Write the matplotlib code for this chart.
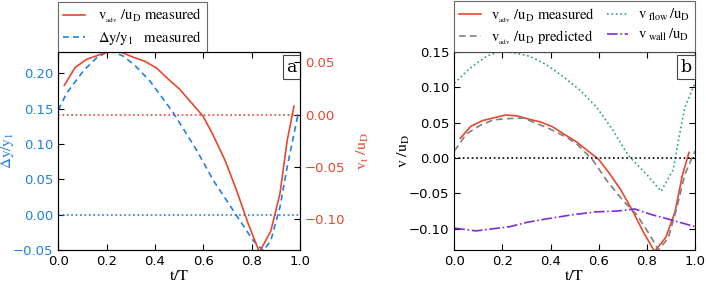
import matplotlib
matplotlib.use("Agg")
import matplotlib.pyplot as plt

plt.rcParams['mathtext.fontset'] = 'stix'
plt.rcParams['font.family'] = 'DejaVu Sans'

# ---- data ----
t_meas = [0.025, 0.069, 0.117, 0.166, 0.214, 0.262, 0.31, 0.359, 0.407, 0.455, 0.503,
          0.552, 0.60, 0.641, 0.69, 0.738, 0.786, 0.832, 0.879, 0.917, 0.947, 0.975]
v_adv_meas = [0.028, 0.045, 0.053, 0.057, 0.061, 0.0596, 0.055, 0.051, 0.0445, 0.034, 0.024,
              0.011, -0.002, -0.020, -0.044, -0.073, -0.105, -0.132, -0.112, -0.076, -0.025, 0.008]

t_dy = [0.0, 0.035, 0.103, 0.159, 0.214, 0.27, 0.32, 0.379, 0.476, 0.572, 0.641, 0.724, 0.807,
        0.848, 0.879, 0.917, 0.947, 0.993]
dy_meas = [0.148, 0.172, 0.203, 0.222, 0.232, 0.224, 0.210, 0.189, 0.144, 0.0914, 0.0486, 0.0057,
           -0.037, -0.051, -0.037, 0.0105, 0.0676, 0.144]

t_pred = [0.0, 0.05, 0.106, 0.162, 0.218, 0.287, 0.342, 0.398, 0.468, 0.509, 0.578, 0.634,
          0.703, 0.758, 0.813, 0.848, 0.889, 0.924, 0.958, 1.0]
v_adv_pred = [0.010, 0.034, 0.046, 0.054, 0.0557, 0.0566, 0.049, 0.041, 0.029, 0.020, -0.004,
              -0.032, -0.061, -0.080, -0.109, -0.130, -0.113, -0.071, -0.023, 0.010]

t_flow = [0.0, 0.065, 0.134, 0.19, 0.245, 0.314, 0.383, 0.453, 0.522, 0.591, 0.66, 0.702,
          0.73, 0.799, 0.859, 0.91, 0.931, 0.958, 1.0]
v_flow = [0.106, 0.127, 0.144, 0.151, 0.149, 0.144, 0.132, 0.115, 0.096, 0.072, 0.039, 0.015,
          0.001, -0.023, -0.047, -0.016, 0.025, 0.072, 0.106]

t_wall = [0.0, 0.09, 0.231, 0.30, 0.383, 0.494, 0.591, 0.674, 0.75, 0.82, 0.896, 1.0]
v_wall = [-0.099, -0.103, -0.097, -0.091, -0.086, -0.080, -0.076, -0.075, -0.072, -0.080,
          -0.087, -0.097]

xticks = [0.0, 0.2, 0.4, 0.6, 0.8, 1.0]
yticks_a = [-0.05, 0.0, 0.05, 0.10, 0.15, 0.20]
yticks_ar = [-0.10, -0.05, 0.0, 0.05]
yticks_b = [-0.10, -0.05, 0.0, 0.05, 0.10, 0.15]

RED = '#e8472e'
BLUE = '#1e80e8'
GREY = '#808080'
GREEN = '#2aa37c'
PURPLE = '#7a2ee0'

fig = plt.figure(figsize=(7.06, 2.86), dpi=100)
W, H = 706, 286

def add_ax(x0, x1, y0, y1):
    return fig.add_axes([x0 / W, 1 - y1 / H, (x1 - x0) / W, (y1 - y0) / H])

def style_ticks(ax):
    ax.tick_params(direction='in', length=4, width=0.8, labelsize=9.5, pad=3.5)

def fmt(v):
    return f"{v:.2f}".replace('-', '\u2212')

LEGFS = 10.5

# ---- panel a ----
axa = add_ax(58.3, 300, 52, 250)
axa.plot(t_dy, dy_meas, color=BLUE, ls='--', lw=1.2, dashes=(3.5, 2.5))
axa.axhline(0, color=BLUE, ls=':', lw=1.2)
axa.set_xlim(0, 1)
axa.set_ylim(-0.05, 0.23)
axa.set_xticks(xticks)
axa.set_xticklabels([f"{v:.1f}" for v in xticks])
axa.set_yticks(yticks_a)
axa.set_yticklabels([fmt(v) for v in yticks_a], color=BLUE)
style_ticks(axa)
axa.tick_params(top=True, right=False)
axa.set_xlabel(r'$\mathrm{t/T}$', fontsize=11.5, labelpad=0)
axa.set_ylabel(r'$\mathrm{\Delta y/y_1}$', fontsize=11, color=BLUE)
axa.yaxis.set_label_coords((16 - 58.3) / 241.7, 0.5)

axr = axa.twinx()
axr.plot(t_meas, v_adv_meas, color=RED, lw=1.2)
axr.axhline(0, color=RED, ls=':', lw=1.2)
axr.set_ylim(-0.13, 0.06)
axr.set_yticks(yticks_ar)
axr.set_yticklabels([fmt(v) for v in yticks_ar], color=RED)
style_ticks(axr)
axr.set_ylabel(r'$\mathrm{v_t\ /u_D}$', fontsize=11.5, color=RED)
axr.yaxis.set_label_coords((355 - 58.3) / 241.7, 0.5)
axr.set_xlim(0, 1)

la, = axa.plot([], [], color=RED, lw=1.2)
lb, = axa.plot([], [], color=BLUE, ls='--', lw=1.2, dashes=(3.5, 2.5))
lega = axa.legend([la, lb],
                  [r'$\mathrm{v_{_{adv}}\ /u_D\ measured}$', r'$\mathrm{\Delta y/y_1\ \ \ measured}$'],
                  loc='lower left', bbox_to_anchor=(0, 1.0), fontsize=LEGFS, frameon=True,
                  fancybox=False, borderaxespad=0, handlelength=1.5, labelspacing=0.25,
                  borderpad=0.35, handletextpad=0.9)
lega.get_frame().set_edgecolor('#444444')
lega.get_frame().set_linewidth(0.8)
axa.text(0.985, 0.965, 'a', transform=axa.transAxes, ha='right', va='top',
         fontsize=12.5, family='DejaVu Serif',
         bbox=dict(boxstyle='square,pad=0.2', fc='white', ec='#444444', lw=0.8))

# ---- panel b ----
axb = add_ax(454.3, 695, 52, 250)
axb.plot(t_meas, v_adv_meas, color=RED, lw=1.2, label=r'$\mathrm{v_{_{adv}}\ /u_D\ measured}$')
axb.plot(t_pred, v_adv_pred, color=GREY, ls='--', lw=1.2, dashes=(4, 2.5),
         label=r'$\mathrm{v_{_{adv}}\ /u_D\ predicted}$')
axb.plot(t_flow, v_flow, color=GREEN, ls=':', lw=1.2, label=r'$\mathrm{v_{\ flow}\,/u_D}$')
axb.plot(t_wall, v_wall, color=PURPLE, ls='-.', lw=1.2, label=r'$\mathrm{v_{\ wall}\,/u_D}$')
axb.axhline(0, color='black', ls=':', lw=1.2)
axb.set_xlim(0, 1)
axb.set_ylim(-0.13, 0.15)
axb.set_xticks(xticks)
axb.set_xticklabels([f"{v:.1f}" for v in xticks])
axb.set_yticks(yticks_b)
axb.set_yticklabels([fmt(v) for v in yticks_b])
style_ticks(axb)
axb.tick_params(top=True, right=True)
axb.set_xlabel(r'$\mathrm{t/T}$', fontsize=11.5, labelpad=0)
axb.set_ylabel(r'$\mathrm{v\ /u_D}$', fontsize=11.5)
axb.yaxis.set_label_coords((412 - 454.3) / 240.7, 0.5)
legb = axb.legend(loc='lower left', bbox_to_anchor=(0, 1.0, 1, 0.2), mode='expand', ncol=2,
                  fontsize=LEGFS, frameon=True, fancybox=False, borderaxespad=0,
                  handlelength=1.5, labelspacing=0.25, borderpad=0.35, handletextpad=0.65,
                  columnspacing=1.0)
legb.get_frame().set_edgecolor('#444444')
legb.get_frame().set_linewidth(0.8)
axb.text(0.985, 0.965, 'b', transform=axb.transAxes, ha='right', va='top',
         fontsize=12.5, family='DejaVu Serif',
         bbox=dict(boxstyle='square,pad=0.2', fc='white', ec='#444444', lw=0.8))

fig.savefig('out.png', dpi=100)
